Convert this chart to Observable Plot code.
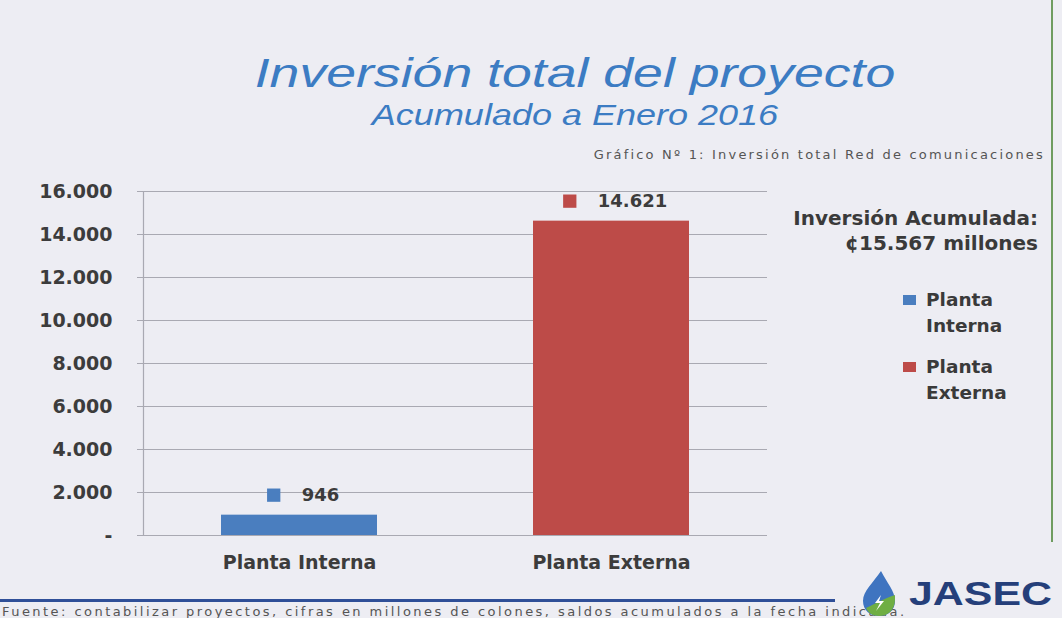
<!DOCTYPE html>
<html>
<head>
<meta charset="utf-8">
<script src="https://cdn.jsdelivr.net/npm/d3@7"></script>
<script src="https://cdn.jsdelivr.net/npm/@observablehq/plot@0.6"></script>
<style>
  html, body { margin: 0; padding: 0; background: #ededf3; }
  #page { position: relative; width: 1062px; height: 618px; overflow: hidden; background: #ededf3; font-family: "DejaVu Sans", sans-serif; }
  .abs { position: absolute; white-space: nowrap; }
  #title { left: 0; width: 1150px; top: 51px; text-align: center; font: italic 40px "Liberation Sans", Arial, sans-serif; color: #3c7cc3; line-height: normal; transform: scaleX(1.34); transform-origin: 575px center; }
  #subtitle { left: 0; width: 1150px; top: 98px; text-align: center; font: italic 30px "Liberation Sans", Arial, sans-serif; color: #3c7cc3; line-height: normal; transform: scaleX(1.2); transform-origin: 575px center; }
  #gtitle { right: 17px; top: 147px; font: 13px "DejaVu Sans", sans-serif; color: #555; letter-spacing: 2.2px; }
  #total { right: 24px; top: 206px; text-align: right; font: bold 20px "DejaVu Sans", sans-serif; color: #3a3a3a; line-height: 25px; }
  .leg { left: 903px; font: bold 18.5px "DejaVu Sans", sans-serif; color: #3a3a3a; line-height: 25.5px; }
  .sw { position: absolute; left: 0; top: 8px; width: 13px; height: 10px; }
  .leg span.t { display: block; padding-left: 23px; }
  #vline { left: 1051px; top: 0; width: 2px; height: 542px; background: #6f9c60; }
  #hline { left: 0; top: 599px; width: 835px; height: 3px; background: #2f4f98; }
  #foot { left: 2px; top: 604px; font: 13px "DejaVu Sans", sans-serif; color: #555; letter-spacing: 2.45px; }
  #jasec { left: 909px; top: 575px; font: bold 33px "Liberation Sans", Arial, sans-serif; color: #253f7a; transform: scaleX(1.3); transform-origin: left center; }
  #logo { left: 857px; top: 569px; }
  #chart { position: absolute; left: 0; top: 170px; }
</style>
</head>
<body>
<div id="page">
  <div class="abs" id="title">Inversión total del proyecto</div>
  <div class="abs" id="subtitle">Acumulado a Enero 2016</div>
  <div class="abs" id="gtitle">Gráfico Nº 1: Inversión total Red de comunicaciones</div>
  <div id="chart"></div>
  <div class="abs" id="total">Inversión Acumulada:<br>¢15.567 millones</div>
  <div id="legend"></div>
  <div class="abs" id="vline"></div>
  <div class="abs" id="hline"></div>
  <div class="abs" id="foot">Fuente: contabilizar proyectos, cifras en millones de colones, saldos acumulados a la fecha indicada.</div>
  <svg class="abs" id="logo" width="44" height="48" viewBox="0 0 40 48">
    <path d="M22 2 C14 14 4 22 4 32 C4 41 11 47 20 47 C29 47 36 41 36 32 C36 22 28 14 22 2 Z" fill="#3f74c0"/>
    <path d="M36 30 C36 41 29 47 20 47 C14 47 9 44 7 39 C14 36 24 30 36 26 Z" fill="#6fae44"/>
    <path d="M22 26 L16 34 L21 34 L17 42 L25 32 L20 32 Z" fill="#ffffff"/>
  </svg>
  <div class="abs" id="jasec">JASEC</div>
</div>
<script>
// ---- data ----
const categories = ["Planta Interna", "Planta Externa"];
const values = [946, 14621];
const valueLabels = ["946", "14.621"];
const colors = ["#4a7ebf", "#bd4b48"];
const yTicks = [0, 2000, 4000, 6000, 8000, 10000, 12000, 14000, 16000];
const yTickLabels = ["-", "2.000", "4.000", "6.000", "8.000", "10.000", "12.000", "14.000", "16.000"];
const legendLabels = [["Planta", "Interna"], ["Planta", "Externa"]];

const rows = categories.map((c, i) => ({cat: c, value: values[i], label: valueLabels[i], color: colors[i]}));

// measure label widths to place the colour squares beside them
const ctx = document.createElement("canvas").getContext("2d");
ctx.font = "bold 18px 'DejaVu Sans'";

const squareMarks = rows.map(r => {
  const w = ctx.measureText(r.label).width;
  return Plot.dot([r], {x: "cat", y: "value", symbol: "square", r: 7.5, fill: "color", stroke: null, dx: 21 - w / 2 - 28, dy: -20});
});

const chart = Plot.plot({
  width: 1062,
  height: 410,
  marginLeft: 143,
  marginRight: 295,
  marginTop: 21,
  marginBottom: 45,
  style: {background: "transparent", fontFamily: "'DejaVu Sans', sans-serif"},
  x: {domain: categories, paddingInner: 0.5, paddingOuter: 0.25, label: null},
  y: {domain: [0, 16000], label: null},
  marks: [
    Plot.gridY(yTicks, {stroke: "#a9a9b2", strokeOpacity: 1, strokeWidth: 1.2}),
    Plot.axisY({ticks: yTicks, tickFormat: d => yTickLabels[yTicks.indexOf(d)], tickSize: 6, tickPadding: 25,
      stroke: "#a9a9b2", fontSize: 19, fontWeight: "bold", fill: "#3c3c3c", label: null}),
    Plot.axisX({tickSize: 0, tickPadding: 20, fontSize: 19, fontWeight: "bold", fill: "#3c3c3c", label: null}),
    Plot.frame({anchor: "left", stroke: "#a9a9b2", strokeWidth: 1.2}),
    Plot.barY(rows, {x: "cat", y: "value", fill: "color"}),
    ...squareMarks,
    Plot.text(rows, {x: "cat", y: "value", text: "label", dx: 21, dy: -20, fontSize: 18, fontWeight: "bold", fill: "#3c3c3c", textAnchor: "middle"})
  ]
});
document.getElementById("chart").appendChild(chart);

// legend
const legend = document.getElementById("legend");
legendLabels.forEach((lines, i) => {
  const d = document.createElement("div");
  d.className = "abs leg";
  d.style.top = (287 + i * 67) + "px";
  d.innerHTML = `<div class="sw" style="background:${colors[i]}"></div><span class="t">${lines[0]}</span><span class="t">${lines[1]}</span>`;
  legend.appendChild(d);
});
</script>
</body>
</html>
